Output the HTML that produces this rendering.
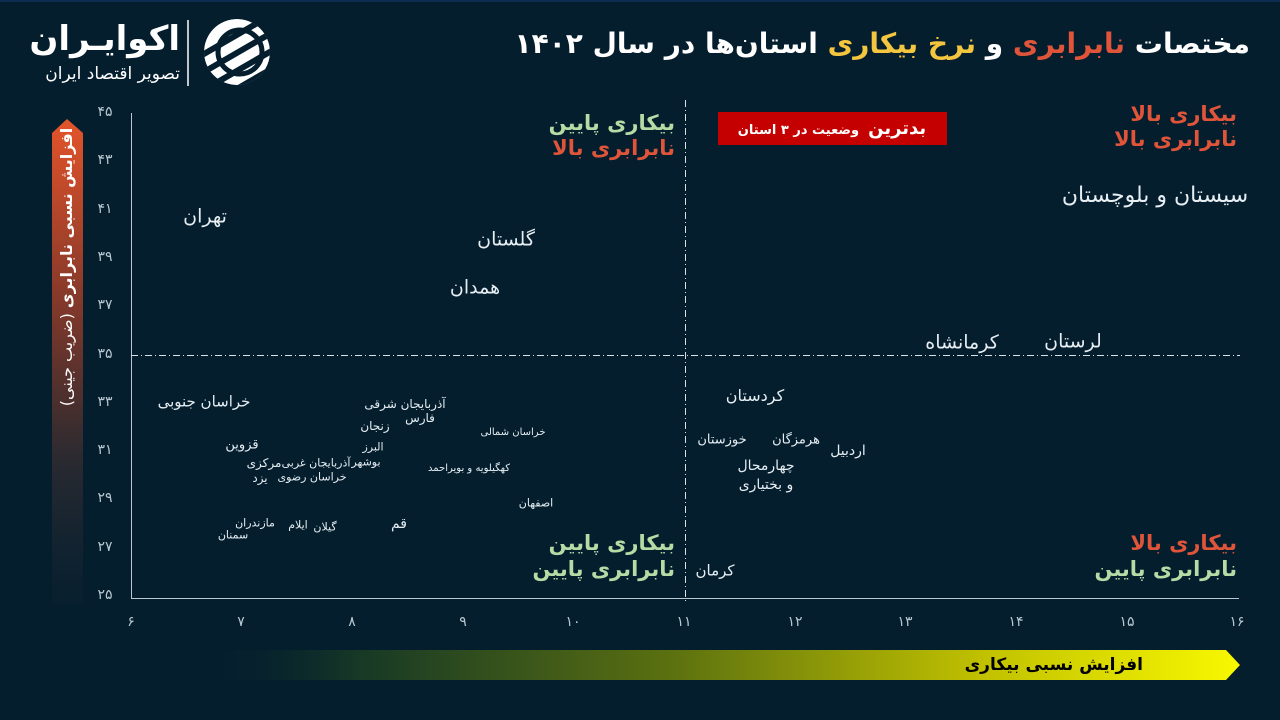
<!DOCTYPE html>
<html lang="fa">
<head>
<meta charset="utf-8">
<style>
  html,body{margin:0;padding:0;}
  body{width:1280px;height:720px;background:#041e2e;position:relative;overflow:hidden;
    font-family:"DejaVu Sans","Liberation Sans",sans-serif;}
  .t{position:absolute;white-space:nowrap;direction:rtl;transform:translate(-50%,-50%);color:#e6eef2;line-height:1;}
  .r{position:absolute;white-space:nowrap;direction:rtl;line-height:1.25;text-align:right;font-weight:bold;}
  .tick{position:absolute;transform:translate(-50%,-50%);color:#b9c8d0;font-size:14px;line-height:1;}
</style>
</head>
<body>
<svg width="1280" height="720" style="position:absolute;left:0;top:0" xmlns="http://www.w3.org/2000/svg">
  <defs>
    <linearGradient id="yg" x1="0" y1="0" x2="0" y2="1">
      <stop offset="0" stop-color="#e4542a"/>
      <stop offset="0.35" stop-color="#8a3a2a"/>
      <stop offset="0.7" stop-color="#2a2a30"/>
      <stop offset="1" stop-color="#0a2030" stop-opacity="0.6"/>
    </linearGradient>
    <linearGradient id="xg" x1="0" y1="0" x2="1" y2="0">
      <stop offset="0" stop-color="#041e2e" stop-opacity="0"/>
      <stop offset="0.15" stop-color="#163826"/>
      <stop offset="0.45" stop-color="#5a7010"/>
      <stop offset="0.75" stop-color="#c0c000"/>
      <stop offset="1" stop-color="#f8f800"/>
    </linearGradient>
    <clipPath id="lc"><circle cx="237" cy="52" r="33"/></clipPath>
  </defs>
  <rect x="0" y="0" width="1280" height="2" fill="#0c2c52"/>
  <!-- logo icon -->
  <g clip-path="url(#lc)">
    <circle cx="237" cy="52" r="33" fill="#ffffff"/>
    <g stroke="#041e2e" stroke-width="6">
      <line x1="190" y1="62" x2="280" y2="10"/>
      <line x1="190" y1="80" x2="280" y2="28"/>
      <line x1="190" y1="98" x2="280" y2="46"/>
      <line x1="190" y1="116" x2="280" y2="64"/>
    </g>
    <circle cx="240" cy="52" r="22" fill="none" stroke="#041e2e" stroke-width="5"/>
  </g>
  <line x1="188" y1="20" x2="188" y2="86" stroke="#ffffff" stroke-width="1.5"/>
  <!-- y-axis arrow -->
  <polygon points="67,119 52,133 52,605 83,605 83,133" fill="url(#yg)"/>
  <!-- x-axis arrow -->
  <polygon points="200,650 1226,650 1240,665 1226,680 200,680" fill="url(#xg)"/>
  <!-- axes -->
  <line x1="131.5" y1="113" x2="131.5" y2="598.5" stroke="#b9c8d0" stroke-width="1"/>
  <line x1="131" y1="598.5" x2="1239" y2="598.5" stroke="#b9c8d0" stroke-width="1"/>
  <!-- dashed quadrant lines -->
  <line x1="685.5" y1="100" x2="685.5" y2="604" stroke="#d8e2e6" stroke-width="1" stroke-dasharray="7 3 1 3"/>
  <line x1="131" y1="355.5" x2="1240" y2="355.5" stroke="#d8e2e6" stroke-width="1" stroke-dasharray="7 3 1 3"/>
  <!-- red box -->
  <rect x="718" y="112" width="229" height="33" fill="#c40000"/>
</svg>

<!-- logo text -->
<div class="r" style="right:1100px;top:21px;color:#fff;font-size:34px;line-height:1.1;">اکوایـران</div>
<div class="r" style="right:1100px;top:64px;color:#fff;font-size:17px;font-weight:normal;">تصویر اقتصاد ایران</div>

<!-- title -->
<div class="r" style="right:30px;top:26px;color:#fff;font-size:28px;">مختصات <span style="color:#e0553a">نابرابری</span> و <span style="color:#f4c53e">نرخ بیکاری</span> استان‌ها در سال ۱۴۰۲</div>

<!-- y axis title -->
<div style="position:absolute;left:67px;top:267px;transform:translate(-50%,-50%) rotate(-90deg);white-space:nowrap;direction:rtl;color:#fff;font-size:16px;line-height:1;"><b>افزایش نسبی نابرابری</b> (ضریب جینی)</div>

<!-- x axis title -->
<div class="r" style="right:137px;top:655px;color:#000;font-size:17px;">افزایش نسبی بیکاری</div>

<!-- y ticks -->
<div class="tick" style="left:105px;top:112px">۴۵</div>
<div class="tick" style="left:105px;top:160px">۴۳</div>
<div class="tick" style="left:105px;top:209px">۴۱</div>
<div class="tick" style="left:105px;top:257px">۳۹</div>
<div class="tick" style="left:105px;top:305px">۳۷</div>
<div class="tick" style="left:105px;top:354px">۳۵</div>
<div class="tick" style="left:105px;top:402px">۳۳</div>
<div class="tick" style="left:105px;top:450px">۳۱</div>
<div class="tick" style="left:105px;top:498px">۲۹</div>
<div class="tick" style="left:105px;top:547px">۲۷</div>
<div class="tick" style="left:105px;top:595px">۲۵</div>

<!-- x ticks -->
<div class="tick" style="left:131px;top:622px">۶</div>
<div class="tick" style="left:241px;top:622px">۷</div>
<div class="tick" style="left:352px;top:622px">۸</div>
<div class="tick" style="left:463px;top:622px">۹</div>
<div class="tick" style="left:573px;top:622px">۱۰</div>
<div class="tick" style="left:684px;top:622px">۱۱</div>
<div class="tick" style="left:795px;top:622px">۱۲</div>
<div class="tick" style="left:905px;top:622px">۱۳</div>
<div class="tick" style="left:1016px;top:622px">۱۴</div>
<div class="tick" style="left:1127px;top:622px">۱۵</div>
<div class="tick" style="left:1237px;top:622px">۱۶</div>

<!-- quadrant labels -->
<div class="r" style="right:605px;top:111px;font-size:21px;line-height:1.2;"><span style="color:#b6dca6">بیکاری پایین</span><br><span style="color:#e0553a">نابرابری بالا</span></div>
<div class="r" style="right:43px;top:102px;font-size:21px;line-height:1.2;color:#e0553a;">بیکاری بالا<br>نابرابری بالا</div>
<div class="r" style="right:605px;top:530px;font-size:21px;line-height:1.25;color:#b6dca6;">بیکاری پایین<br>نابرابری پایین</div>
<div class="r" style="right:43px;top:530px;font-size:21px;line-height:1.25;"><span style="color:#e0553a">بیکاری بالا</span><br><span style="color:#b6dca6">نابرابری پایین</span></div>

<!-- red box text -->
<div class="t" style="left:832px;top:129px;color:#fff;font-weight:bold;font-size:13px;"><span style="font-size:18px">بدترین</span>&nbsp; وضعیت در ۳ استان</div>

<!-- data labels -->
<div class="t" style="left:205px;top:217px;font-size:19px;">تهران</div>
<div class="t" style="left:506px;top:240px;font-size:19px;">گلستان</div>
<div class="t" style="left:475px;top:288px;font-size:19px;">همدان</div>
<div class="t" style="left:1155px;top:196px;font-size:22px;">سیستان و بلوچستان</div>
<div class="t" style="left:962px;top:343px;font-size:19px;">کرمانشاه</div>
<div class="t" style="left:1073px;top:342px;font-size:19px;">لرستان</div>

<div class="t" style="left:204px;top:402px;font-size:15px;">خراسان جنوبی</div>
<div class="t" style="left:405px;top:404px;font-size:12px;">آذربایجان شرقی</div>
<div class="t" style="left:420px;top:418px;font-size:12px;">فارس</div>
<div class="t" style="left:375px;top:426px;font-size:12px;">زنجان</div>
<div class="t" style="left:513px;top:433px;font-size:10px;">خراسان شمالی</div>
<div class="t" style="left:242px;top:445px;font-size:13px;">قزوین</div>
<div class="t" style="left:373px;top:447px;font-size:11px;">البرز</div>
<div class="t" style="left:366px;top:462px;font-size:11px;">بوشهر</div>
<div class="t" style="left:316px;top:463px;font-size:11px;">آذربایجان غربی</div>
<div class="t" style="left:264px;top:463px;font-size:12px;">مرکزی</div>
<div class="t" style="left:469px;top:469px;font-size:10px;">کهگیلویه و بویراحمد</div>
<div class="t" style="left:312px;top:477px;font-size:11px;">خراسان رضوی</div>
<div class="t" style="left:260px;top:478px;font-size:12px;">یزد</div>
<div class="t" style="left:536px;top:503px;font-size:11px;">اصفهان</div>
<div class="t" style="left:255px;top:523px;font-size:11px;">مازندران</div>
<div class="t" style="left:233px;top:535px;font-size:11px;">سمنان</div>
<div class="t" style="left:298px;top:525px;font-size:11px;">ایلام</div>
<div class="t" style="left:325px;top:527px;font-size:11px;">گیلان</div>
<div class="t" style="left:399px;top:524px;font-size:14px;">قم</div>

<div class="t" style="left:755px;top:396px;font-size:16px;">کردستان</div>
<div class="t" style="left:722px;top:440px;font-size:13px;">خوزستان</div>
<div class="t" style="left:796px;top:440px;font-size:13px;">هرمزگان</div>
<div class="t" style="left:848px;top:451px;font-size:14px;">اردبیل</div>
<div class="t" style="left:766px;top:466px;font-size:14px;">چهارمحال</div>
<div class="t" style="left:766px;top:485px;font-size:14px;">و بختیاری</div>
<div class="t" style="left:715px;top:571px;font-size:15px;">کرمان</div>
</body>
</html>
